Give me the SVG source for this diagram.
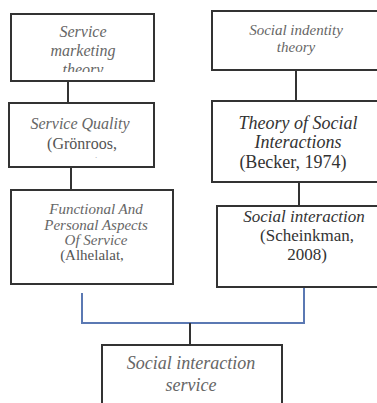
<svg xmlns="http://www.w3.org/2000/svg" width="377" height="403" viewBox="0 0 377 403">
<style>
.box{fill:#fff;stroke:#333;stroke-width:2}
.ln{stroke:#333;stroke-width:2;fill:none}
.bl{stroke:#5b79b3;stroke-width:2;fill:none}
</style>
<defs>
<clipPath id="c1"><rect x="12" y="15" width="141" height="57"/></clipPath>
<clipPath id="c2"><rect x="10" y="104" width="143" height="54"/></clipPath>
</defs>
<rect width="377" height="403" fill="#fff"/>
<g id="connectors">
<line class="ln" x1="68" y1="81" x2="68" y2="103"/>
<line class="ln" x1="71" y1="167" x2="71" y2="190"/>
<line class="ln" x1="296" y1="70" x2="296" y2="101"/>
<line class="ln" x1="299" y1="182" x2="299" y2="206"/>
<polyline class="bl" points="82,293 82,323 304,323 304,287"/>
<line class="ln" x1="190" y1="323" x2="190" y2="345"/>
</g>
<g font-family="Liberation Serif, serif" text-anchor="middle">
<g id="n1">
<rect class="box" x="11" y="14" width="143" height="67"/>
<g clip-path="url(#c1)" font-size="16" font-style="italic" fill="#666">
<text x="83" y="37">Service</text>
<text x="83" y="56">marketing</text>
<text x="83" y="75">theory</text>
</g>
</g>
<g id="n2">
<rect class="box" x="9" y="103" width="145" height="64"/>
<g clip-path="url(#c2)" font-size="16">
<text x="80" y="129" font-style="italic" fill="#666">Service Quality</text>
<text x="82" y="149" fill="#555">(Grönroos,</text>
<text x="82" y="169" fill="#555">1993)</text>
</g>
</g>
<g id="n3">
<rect class="box" x="11" y="190" width="162" height="94"/>
<g font-size="15">
<g font-style="italic" fill="#666">
<text x="96" y="214">Functional And</text>
<text x="96" y="230">Personal Aspects</text>
<text x="96" y="245">Of Service</text>
</g>
<text x="92" y="260" fill="#555">(Alhelalat,</text>
</g>
</g>
<g id="n4">
<rect class="box" x="212" y="11" width="175" height="59"/>
<g font-size="15" font-style="italic" fill="#666">
<text x="296" y="35">Social indentity</text>
<text x="296" y="52">theory</text>
</g>
</g>
<g id="n5">
<rect class="box" x="212" y="101" width="175" height="81" stroke-width="2.5"/>
<g font-size="18" fill="#333">
<text x="298" y="129" font-style="italic">Theory of Social</text>
<text x="298" y="148" font-style="italic">Interactions</text>
<text x="293" y="168">(Becker, 1974)</text>
</g>
</g>
<g id="n6">
<rect class="box" x="217" y="206" width="170" height="81"/>
<g font-size="17" fill="#333">
<text x="304" y="222" font-style="italic">Social interaction</text>
<text x="307" y="241">(Scheinkman,</text>
<text x="307" y="260">2008)</text>
</g>
</g>
<g id="n7">
<rect class="box" x="102" y="345" width="180" height="70"/>
<g font-size="18" font-style="italic" fill="#666">
<text x="191" y="369">Social interaction</text>
<text x="191" y="391">service</text>
</g>
</g>
</g>
</svg>
